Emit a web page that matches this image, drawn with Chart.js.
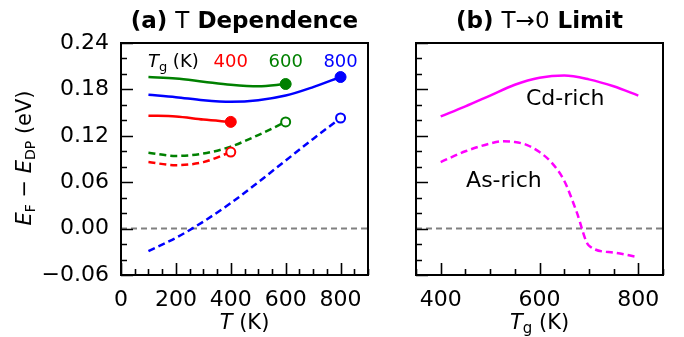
<!DOCTYPE html>
<html>
<head>
<meta charset="utf-8">
<script src="https://cdn.jsdelivr.net/npm/chart.js@4/dist/chart.umd.min.js"></script>
<style>
  html, body { margin: 0; padding: 0; background: #fff; }
  #wrap { position: relative; width: 684px; height: 337px; }
  #left { position: absolute; left: 0; top: 0; }
  #right { position: absolute; left: 380px; top: 0; }
</style>
</head>
<body>
<div id="wrap">
  <canvas id="left" width="380" height="337"></canvas>
  <canvas id="right" width="304" height="337"></canvas>
</div>
<script>
// (a) E_F - E_DP against T, one pair of curves per growth temperature
const tK = [100, 200, 300, 400, 500, 600, 700, 800];
const cdRich400 = [0.146, 0.145, 0.141, 0.138];
const cdRich600 = [0.196, 0.194, 0.190, 0.186, 0.184, 0.187];
const cdRich800 = [0.173, 0.170, 0.166, 0.164, 0.166, 0.172, 0.183, 0.196];
const asRich400 = [0.086, 0.082, 0.086, 0.099];
const asRich600 = [0.098, 0.094, 0.097, 0.106, 0.121, 0.138];
const asRich800 = [-0.029, -0.012, 0.009, 0.033, 0.060, 0.088, 0.116, 0.143];

// (b) T -> 0 limit against growth temperature
const tgCd = [400, 450, 500, 550, 600, 650, 700, 750, 800];
const cdLimit = [0.145, 0.158, 0.172, 0.186, 0.195, 0.198, 0.193, 0.184, 0.172];
const tgAs = [400, 450, 500, 525, 550, 575, 600, 625, 650, 675, 700, 750, 800];
const asLimit = [0.086, 0.100, 0.110, 0.113, 0.112, 0.108, 0.099, 0.085, 0.062, 0.022, -0.022, -0.031, -0.037];

const tTicks = [0, 200, 400, 600, 800];
const tgTicks = [400, 600, 800];
const eTicks = [-0.06, 0, 0.06, 0.12, 0.18, 0.24];
const tgLabels = ['400', '600', '800'];

const FONT = 'DejaVu Sans';
const RED = '#ff0000', GREEN = '#008000', BLUE = '#0000ff', MAG = '#ff00ff';

function pts(xs, ys) {
  return ys.map((y, i) => ({ x: xs[i], y: y }));
}

function curve(xs, ys, color, dashed, marker) {
  return {
    data: pts(xs, ys),
    borderColor: color,
    borderWidth: 2.5,
    borderDash: dashed ? [7, 4] : [],
    cubicInterpolationMode: 'monotone',
    fill: false,
    pointRadius: c => (marker && c.dataIndex === c.dataset.data.length - 1) ? (dashed ? 4.5 : 5.5) : 0,
    pointBackgroundColor: dashed ? '#fff' : color,
    pointBorderColor: color,
    pointBorderWidth: dashed ? 2 : 1,
    order: 1
  };
}

function zeroLine(x0, x1) {
  return {
    data: [{ x: x0, y: 0 }, { x: x1, y: 0 }],
    borderColor: '#808080',
    borderWidth: 2,
    borderDash: [6, 4],
    pointRadius: 0,
    order: 5
  };
}

// draw a run of text pieces (italic, subscripts) left to right
function drawRich(ctx, parts, x, y, align) {
  let total = 0;
  parts.forEach(p => { ctx.font = p.font; total += ctx.measureText(p.t).width + (p.gap || 0); });
  let cx = align === 'center' ? x - total / 2 : x;
  ctx.textBaseline = 'alphabetic';
  ctx.textAlign = 'left';
  parts.forEach(p => {
    ctx.font = p.font;
    ctx.fillStyle = p.color || '#000';
    ctx.fillText(p.t, cx, y + (p.dy || 0));
    cx += ctx.measureText(p.t).width + (p.gap || 0);
  });
}

const framePlugin = {
  id: 'frame',
  afterDraw(chart, args, opts) {
    const ctx = chart.ctx;
    const a = chart.chartArea;
    const xs = chart.scales.x, ys = chart.scales.y;
    ctx.save();
    ctx.strokeStyle = '#000';
    ctx.lineWidth = 1.6;
    ctx.beginPath();
    opts.xMinor.forEach(v => {
      const px = Math.round(xs.getPixelForValue(v)) + 0.5;
      const len = opts.xMajor.includes(v) ? 12 : 6;
      ctx.moveTo(px, a.bottom); ctx.lineTo(px, a.bottom - len);
    });
    opts.yMinor.forEach(v => {
      const py = Math.round(ys.getPixelForValue(v)) + 0.5;
      const len = eTicks.some(t => Math.abs(t - v) < 1e-6) ? 12 : 6;
      ctx.moveTo(a.left, py); ctx.lineTo(a.left + len, py);
    });
    ctx.stroke();
    ctx.lineWidth = 2;
    ctx.strokeRect(a.left, a.top, a.right - a.left, a.bottom - a.top);
    ctx.restore();
    if (opts.text) opts.text(chart, ctx);
  }
};

function minorList(lo, hi, step) {
  const out = [];
  for (let v = lo; v <= hi + 1e-9; v += step) out.push(Math.round(v * 1000) / 1000);
  return out;
}

function baseOptions(xMin, xMax, xTicks, yWidth, rightPad, showY) {
  return {
    responsive: false,
    animation: false,
    layout: { padding: { left: 0, right: rightPad, top: 43, bottom: 0 } },
    plugins: { legend: { display: false }, tooltip: { enabled: false } },
    scales: {
      x: {
        type: 'linear', min: xMin, max: xMax,
        afterBuildTicks: s => { s.ticks = xTicks.map(v => ({ value: v })); },
        afterFit: s => { s.height = 62; },
        grid: { display: false }, border: { display: false },
        ticks: { font: { family: FONT, size: 22, lineHeight: 1 }, color: '#000', padding: 6, maxRotation: 0, autoSkip: false }
      },
      y: {
        type: 'linear', min: -0.06, max: 0.24,
        afterBuildTicks: s => { s.ticks = eTicks.map(v => ({ value: v })); },
        afterFit: s => { s.width = yWidth; },
        grid: { display: false }, border: { display: false },
        ticks: {
          display: showY,
          font: { family: FONT, size: 22 }, color: '#000', padding: 4, autoSkip: false,
          callback: v => v.toFixed(2).replace('-', '\u2212')
        }
      }
    }
  };
}

// ---- left panel
const leftOpts = baseOptions(0, 900, tTicks, 121, 12, true);
leftOpts.plugins.frame = {
  xMajor: tTicks, xMinor: minorList(0, 900, 50), yMinor: minorList(-0.06, 0.24, 0.02),
  text(chart, ctx) {
    const a = chart.chartArea, xs = chart.scales.x, ys = chart.scales.y;
    const mid = (a.left + a.right) / 2;
    drawRich(ctx, [
      { t: '(a) ', font: 'bold 23px ' + FONT },
      { t: 'T', font: '23px ' + FONT },
      { t: ' Dependence', font: 'bold 23px ' + FONT }
    ], mid, 28, 'center');
    drawRich(ctx, [
      { t: 'T', font: 'italic 21px ' + FONT },
      { t: ' (K)', font: '21px ' + FONT }
    ], mid, 329, 'center');
    const ly = ys.getPixelForValue(0.218) + 7;
    drawRich(ctx, [
      { t: 'T', font: 'italic 18px ' + FONT },
      { t: 'g', font: '13px ' + FONT, dy: 4 },
      { t: ' (K)', font: '18px ' + FONT }
    ], xs.getPixelForValue(98), ly, 'left');
    const cols = [RED, GREEN, BLUE];
    tgTicks.forEach((tg, i) => {
      drawRich(ctx, [{ t: tgLabels[i], font: '18px ' + FONT, color: cols[i] }], xs.getPixelForValue(tg), ly, 'center');
    });
    ctx.save();
    ctx.translate(31, 158);
    ctx.rotate(-Math.PI / 2);
    drawRich(ctx, [
      { t: 'E', font: 'italic 21px ' + FONT },
      { t: 'F', font: '14px ' + FONT, dy: 4 },
      { t: ' \u2212 ', font: '21px ' + FONT },
      { t: 'E', font: 'italic 21px ' + FONT },
      { t: 'DP', font: '14px ' + FONT, dy: 4 },
      { t: ' (eV)', font: '21px ' + FONT }
    ], 0, 0, 'center');
    ctx.restore();
  }
};

new Chart(document.getElementById('left').getContext('2d'), {
  type: 'line',
  data: {
    datasets: [
      curve(tK.slice(0, 4), cdRich400, RED, false, true),
      curve(tK.slice(0, 6), cdRich600, GREEN, false, true),
      curve(tK, cdRich800, BLUE, false, true),
      curve(tK.slice(0, 4), asRich400, RED, true, true),
      curve(tK.slice(0, 6), asRich600, GREEN, true, true),
      curve(tK, asRich800, BLUE, true, true),
      zeroLine(0, 900)
    ]
  },
  options: leftOpts,
  plugins: [framePlugin]
});

// ---- right panel
const rightOpts = baseOptions(350, 850, tgTicks, 36, 21, false);
rightOpts.plugins.frame = {
  xMajor: tgTicks, xMinor: minorList(350, 850, 50), yMinor: minorList(-0.06, 0.24, 0.02),
  text(chart, ctx) {
    const a = chart.chartArea, xs = chart.scales.x, ys = chart.scales.y;
    const mid = (a.left + a.right) / 2;
    drawRich(ctx, [
      { t: '(b) ', font: 'bold 23px ' + FONT },
      { t: 'T\u21920', font: '23px ' + FONT },
      { t: ' Limit', font: 'bold 23px ' + FONT }
    ], mid, 28, 'center');
    drawRich(ctx, [
      { t: 'T', font: 'italic 21px ' + FONT },
      { t: 'g', font: '15px ' + FONT, dy: 4 },
      { t: ' (K)', font: '21px ' + FONT }
    ], mid, 329, 'center');
    drawRich(ctx, [{ t: 'Cd-rich', font: '22px ' + FONT }], xs.getPixelForValue(652), ys.getPixelForValue(0.170) + 8, 'center');
    drawRich(ctx, [{ t: 'As-rich', font: '22px ' + FONT }], xs.getPixelForValue(528), ys.getPixelForValue(0.064) + 8, 'center');
  }
};

new Chart(document.getElementById('right').getContext('2d'), {
  type: 'line',
  data: {
    datasets: [
      curve(tgCd, cdLimit, MAG, false, false),
      curve(tgAs, asLimit, MAG, true, false),
      zeroLine(350, 850)
    ]
  },
  options: rightOpts,
  plugins: [framePlugin]
});
</script>
</body>
</html>
